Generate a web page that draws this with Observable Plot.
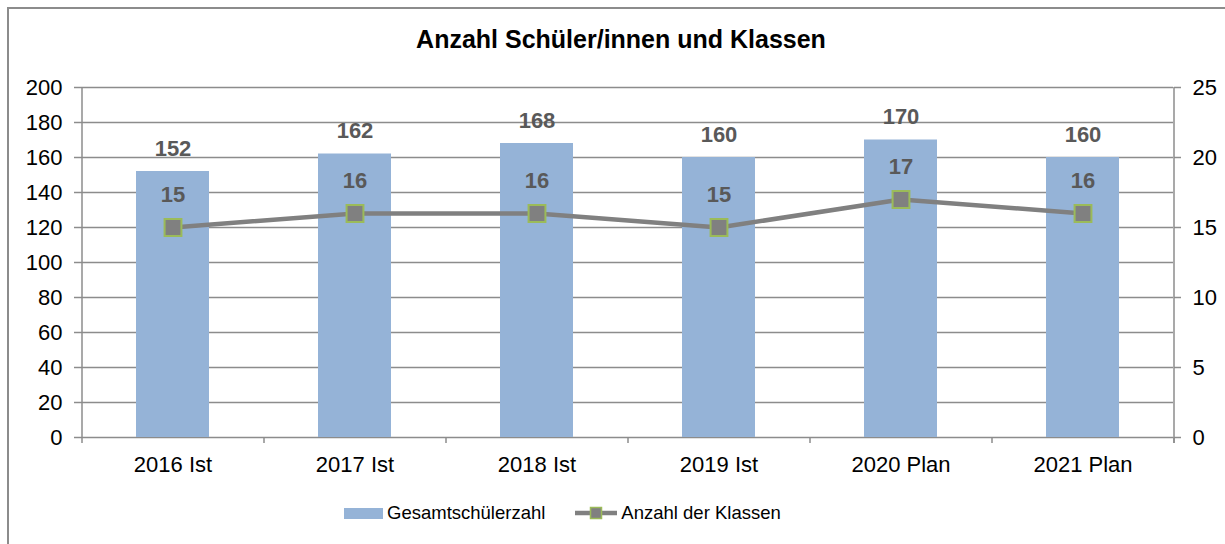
<!DOCTYPE html>
<html>
<head>
<meta charset="utf-8">
<script src="https://cdn.jsdelivr.net/npm/d3@7"></script>
<script src="https://cdn.jsdelivr.net/npm/@observablehq/plot@0.6"></script>
<style>
  html, body { margin: 0; padding: 0; background: #fff; overflow: hidden; }
  body { width: 1225px; height: 544px; position: relative; font-family: "Liberation Sans", Arial, sans-serif; }
  #frame { position: absolute; left: 7px; top: 7px; width: 1240px; height: 560px; border: 2px solid #8c8c8c; box-sizing: border-box; }
  #chart { position: absolute; left: 0; top: 0; }
  #title { position: absolute; left: 0; width: 1242px; top: 27px; text-align: center; font-weight: bold; font-size: 25px; line-height: 25px; color: #000; }
  #legend { position: absolute; left: 344px; top: 503px; display: flex; align-items: center; font-size: 18.5px; line-height: 20px; color: #000; }
  #legend .sw { display: inline-block; width: 39px; height: 11px; background: #95B3D7; margin-right: 4px; }
  #legend .item2 { margin-left: 30px; display: flex; align-items: center; }
</style>
</head>
<body>
<div id="frame"></div>
<div id="chart"></div>
<div id="title">Anzahl Schüler/innen und Klassen</div>
<div id="legend">
  <span class="sw"></span><span>Gesamtschülerzahl</span>
  <span class="item2"><svg width="42" height="14" style="margin-right:4px"><line x1="0" y1="7" x2="42" y2="7" stroke="#808080" stroke-width="4.5"/><rect x="15.5" y="1.5" width="11" height="11" fill="#808080" stroke="#9BBB59" stroke-width="1.5"/></svg><span>Anzahl der Klassen</span></span>
</div>
<script>
const categories = ["2016 Ist", "2017 Ist", "2018 Ist", "2019 Ist", "2020 Plan", "2021 Plan"];
const schueler = [152, 162, 168, 160, 170, 160];
const klassen = [15, 16, 16, 15, 17, 16];
const leftTicks = [0, 20, 40, 60, 80, 100, 120, 140, 160, 180, 200];
const rightTicks = [0, 5, 10, 15, 20, 25];

const leftMax = 200, rightMax = 25;
const k = leftMax / rightMax;
const data = categories.map((c, i) => ({cat: c, s: schueler[i], kl: klassen[i]}));

const W = 1225, H = 544, mL = 81, mR = 52, mT = 87, mB = 107;
const step = (W - mL - mR) / categories.length;
const grid = "#8c8c8c";

const chart = Plot.plot({
  width: W, height: H,
  marginLeft: mL, marginRight: mR, marginTop: mT, marginBottom: mB,
  style: {fontFamily: "'Liberation Sans', Arial, sans-serif", fontSize: "22px", background: "transparent", overflow: "visible"},
  x: {domain: categories, paddingInner: 0.6, paddingOuter: 0.3},
  y: {domain: [0, leftMax]},
  marks: [
    Plot.gridY({ticks: leftTicks, stroke: grid, strokeOpacity: 1, strokeWidth: 1.5}),
    Plot.barY(data, {x: "cat", y: "s", fill: "#95B3D7"}),
    Plot.ruleX([categories[0]], {x: d => d, dx: -step / 2, y1: leftMax, y2: 0, insetBottom: -6, stroke: grid, strokeWidth: 1.5}),
    Plot.ruleX([categories[categories.length - 1]], {x: d => d, dx: step / 2, y1: leftMax, y2: 0, insetBottom: -6, stroke: grid, strokeWidth: 1.5}),
    Plot.axisX({tickSize: 6, tickFormat: () => "", fill: "none", label: null, dx: step / 2, stroke: grid, strokeWidth: 1.5}),
    Plot.axisX({tickSize: 0, tickPadding: 19, label: null, fill: "#000", fontSize: 22}),
    Plot.axisY({ticks: leftTicks, tickSize: 7, tickPadding: 12, label: null, stroke: grid, strokeWidth: 1.5, fill: "#000", fontSize: 22}),
    Plot.axisY({anchor: "right", ticks: rightTicks.map(t => t * k), tickFormat: d => String(d / k), tickSize: 7, tickPadding: 12, label: null, stroke: grid, strokeWidth: 1.5, fill: "#000", fontSize: 22}),
    Plot.text(data, {x: "cat", y: "s", text: d => String(d.s), dy: -16, lineAnchor: "bottom", fontWeight: "bold", fontSize: 22, fill: "#595959"}),
    Plot.line(data, {x: "cat", y: d => d.kl * k, stroke: "#808080", strokeWidth: 4.5}),
    Plot.dot(data, {x: "cat", y: d => d.kl * k, symbol: "square", r: 9.5, fill: "#808080", stroke: "#9BBB59", strokeWidth: 2}),
    Plot.text(data, {x: "cat", y: d => d.kl * k, text: d => String(d.kl), dy: -25.5, lineAnchor: "bottom", fontWeight: "bold", fontSize: 22, fill: "#595959"})
  ]
});
document.getElementById("chart").appendChild(chart);
</script>
</body>
</html>
